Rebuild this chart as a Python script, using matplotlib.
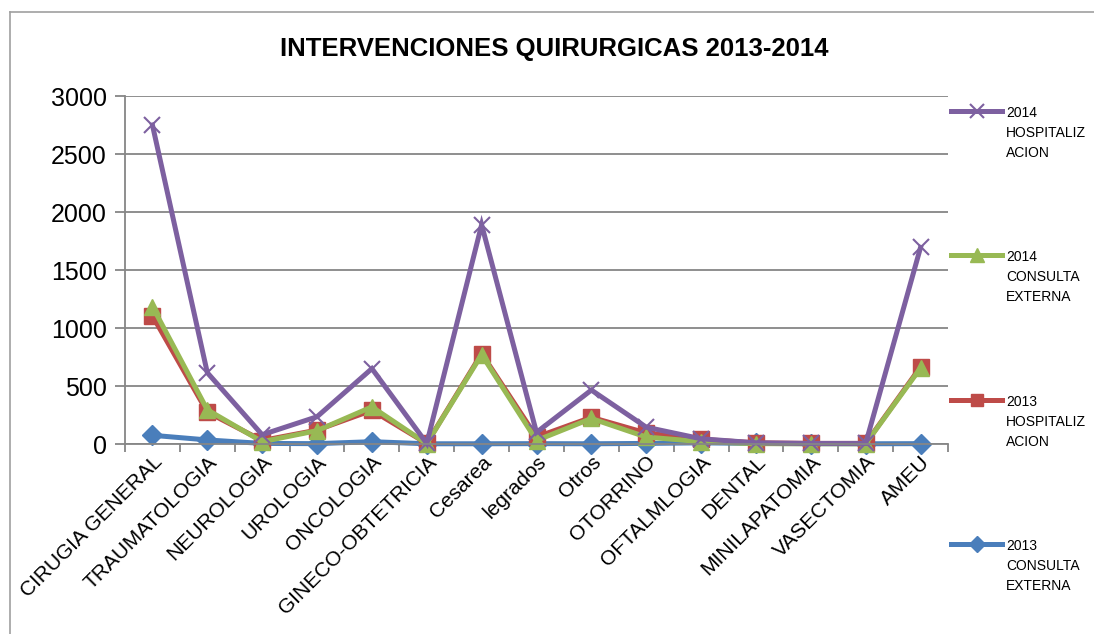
import matplotlib
matplotlib.use("Agg")
import matplotlib.pyplot as plt
from matplotlib.lines import Line2D

FONT = ['Liberation Sans', 'DejaVu Sans']
plt.rcParams['font.family'] = FONT

categories = ["CIRUGIA GENERAL", "TRAUMATOLOGIA", "NEUROLOGIA", "UROLOGIA", "ONCOLOGIA",
              "GINECO-OBTETRICIA", "Cesarea", "legrados", "Otros", "OTORRINO",
              "OFTALMLOGIA", "DENTAL", "MINILAPATOMIA", "VASECTOMIA", "AMEU"]

cons_2013 = [75, 35, 5, 3, 20, 2, 2, 3, 2, 5, 10, 5, 3, 2, 3]
hosp_2013 = [1105, 275, 30, 120, 290, 5, 780, 60, 230, 95, 40, 10, 5, 5, 665]
cons_2014 = [1185, 295, 20, 115, 320, 3, 770, 30, 220, 60, 20, 3, 2, 2, 655]
hosp_2014 = [2750, 615, 80, 235, 650, 5, 1890, 100, 465, 145, 45, 10, 5, 5, 1695]

labels = ["2013\nCONSULTA\nEXTERNA", "2013\nHOSPITALIZ\nACION",
          "2014\nCONSULTA\nEXTERNA", "2014\nHOSPITALIZ\nACION"]
colors = ["#4A7EBB", "#BE4B48", "#98B954", "#7D60A0"]
markers = ["D", "s", "^", "x"]
msizes = [10, 11, 12, 12]
series = [cons_2013, hosp_2013, cons_2014, hosp_2014]

W, H = 1094, 634
fig = plt.figure(figsize=(W / 100, H / 100), dpi=100)
ax = fig.add_axes([125 / W, 1 - 444 / H, (948 - 125) / W, (444 - 96) / H])

x = list(range(len(categories)))
handles = []
for vals, lab, c, m, ms in zip(series, labels, colors, markers, msizes):
    ln, = ax.plot(x, vals, color=c, lw=3.6, marker=m, markersize=ms,
                  markeredgewidth=1.5 if m == "x" else 1.0, markeredgecolor=c,
                  label=lab, solid_joinstyle='miter', clip_on=False)
    handles.append(ln)

ax.set_xlim(-0.5, len(categories) - 0.5)
ax.set_ylim(0, 3000)
ax.set_yticks(range(0, 3001, 500))
ax.set_yticklabels([str(v) for v in range(0, 3001, 500)], fontsize=18)
ax.set_xticks(x)
ax.set_xticklabels(categories, rotation=45, ha='right', va='top',
                   rotation_mode='anchor', fontsize=15)
ax.set_xticks([i - 0.5 for i in range(len(categories) + 1)], minor=True)
ax.tick_params(axis='x', which='major', length=0, pad=6)
ax.tick_params(axis='x', which='minor', length=6, color='#868686', width=1.3)
ax.tick_params(axis='y', length=7, color='#868686', width=1.3, pad=6)
ax.grid(axis='y', color='#868686', lw=1.3)
ax.set_axisbelow(True)
for s in ['top', 'right']:
    ax.spines[s].set_visible(False)
for s in ['left', 'bottom']:
    ax.spines[s].set_color('#868686')
    ax.spines[s].set_linewidth(1.3)

fig.text(554 / W, 1 - 49 / H, "INTERVENCIONES QUIRURGICAS 2013-2014",
         ha='center', va='center', fontsize=18.5, fontweight='bold')

leg = fig.legend(handles[::-1], labels[::-1], loc='upper left',
                 bbox_to_anchor=(951 / W, 1 - 106 / H), frameon=False,
                 fontsize=10, labelspacing=6.5, handlelength=3.7,
                 handletextpad=0.25, borderaxespad=0, borderpad=0,
                 markerscale=0.8)
for t in leg.get_texts():
    t.set_linespacing(1.55)
for col in leg._legend_handle_box.get_children():
    for hp in col.get_children():
        hp.align = 'top'

# chart area border
fig.add_artist(Line2D([10 / W, 10 / W], [0, 1 - 12 / H], transform=fig.transFigure,
                      color='#A0A0A0', lw=1.2))
fig.add_artist(Line2D([10 / W, 1], [1 - 12 / H, 1 - 12 / H], transform=fig.transFigure,
                      color='#A0A0A0', lw=1.2))

fig.savefig("out.png", dpi=100)
